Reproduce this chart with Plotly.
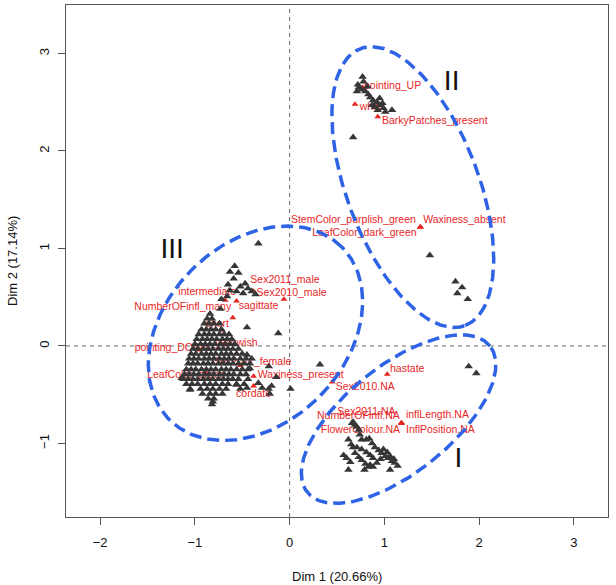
import numpy as np
import plotly.graph_objects as go

# ---------------- data ----------------
# individuals: group II (top)
ind2_x = [0.77, 0.72, 0.78, 0.82, 0.71, 0.76, 0.80, 0.85, 0.88, 0.92, 0.95, 0.98, 0.90, 0.93,
          0.99, 1.08, 0.95, 0.87, 0.67, 0.73, 0.83, 1.01]
ind2_y = [2.76, 2.68, 2.71, 2.66, 2.61, 2.63, 2.61, 2.55, 2.52, 2.50, 2.54, 2.49, 2.45, 2.42,
          2.44, 2.42, 2.47, 2.47, 2.14, 2.65, 2.58, 2.40]

# individuals: scattered on the right
indr_x = [1.48, 1.75, 1.82, 1.77, 1.88, 1.89, 1.97]
indr_y = [0.93, 0.66, 0.60, 0.54, 0.48, -0.21, -0.28]

# individuals: group I (bottom right)
ind1_x = [0.67, 0.69, 0.73, 0.74, 0.76, 0.81, 0.84, 0.87, 0.90, 0.94, 0.97, 1.01, 1.04, 1.08,
          1.11, 1.14, 0.62, 0.65, 0.67, 0.57, 0.60, 0.64, 0.62, 0.69, 0.73, 0.76, 0.80, 0.83,
          0.79, 0.88, 0.92, 0.96, 1.06, 0.76, 0.81, 0.71, 0.85, 0.88, 0.99, 1.03, 1.06, 1.10,
          0.66, 0.71, 0.85]
ind1_y = [-0.78, -0.81, -0.86, -0.91, -0.96, -0.96, -0.95, -1.00, -1.04, -1.07, -1.10, -1.13,
          -1.15, -1.18, -1.20, -1.23, -0.96, -1.01, -1.04, -1.12, -1.15, -1.19, -1.27, -1.10,
          -1.14, -1.17, -1.21, -1.24, -1.27, -1.24, -1.20, -1.16, -1.27, -1.06, -1.09, -1.04,
          -1.12, -1.15, -1.06, -1.09, -1.13, -1.16, -0.79, -0.83, -1.22]

# individuals: group III, sparse part
ind3_x = [-0.58, -0.63, -0.54, -0.59, -0.65, -0.52, -0.47, -0.44, -0.63, -0.56, -0.49, -0.72,
          -0.66, -0.40, -0.36, -0.73, -0.45, -0.42, -0.56, -0.45, -0.29, -0.21, -0.14, -0.22,
          -0.33, -0.19, -0.22, -0.33, -0.12, -0.45, 0.32, 0.01, -1.14, -1.05, -0.81]
ind3_y = [0.82, 0.76, 0.75, 0.69, 0.63, 0.61, 0.64, 0.59, 0.57, 0.56, 0.54, 0.48,
          0.51, 0.56, 0.53, 0.38, -0.09, -0.23, -0.40, -0.43, -0.43, -0.49, -0.32, -0.21,
          -0.38, -0.41, -0.44, 1.05, 0.13, 0.19, -0.19, -0.44, -0.33, -0.45, -0.57]

# individuals: group III, dense mass (one list of x per row)
mass_y = [0.33, 0.28, 0.23, 0.17, 0.12, 0.07, 0.02, -0.03, -0.08, -0.13, -0.18, -0.24,
          -0.29, -0.34, -0.39, -0.44, -0.49, -0.54, -0.60]
mass_x = [
    [-0.84],
    [-0.87, -0.82],
    [-0.90, -0.85, -0.80, -0.74],
    [-0.93, -0.88, -0.83, -0.78, -0.72],
    [-0.96, -0.90, -0.85, -0.80, -0.74, -0.69, -0.64],
    [-0.98, -0.92, -0.87, -0.82, -0.77, -0.71, -0.66, -0.61],
    [-1.00, -0.94, -0.89, -0.84, -0.79, -0.73, -0.68, -0.63, -0.58],
    [-1.02, -0.97, -0.91, -0.86, -0.81, -0.75, -0.70, -0.65, -0.60, -0.54],
    [-1.04, -0.99, -0.93, -0.88, -0.83, -0.78, -0.72, -0.67, -0.62, -0.56, -0.50],
    [-1.06, -1.01, -0.96, -0.90, -0.85, -0.80, -0.74, -0.69, -0.64, -0.59, -0.52, -0.46, -0.40],
    [-1.07, -1.02, -0.97, -0.91, -0.86, -0.81, -0.75, -0.70, -0.65, -0.60, -0.54, -0.48, -0.42],
    [-1.09, -1.04, -0.99, -0.93, -0.88, -0.83, -0.78, -0.72, -0.67, -0.62, -0.56, -0.50, -0.44],
    [-1.11, -1.06, -1.01, -0.96, -0.90, -0.85, -0.80, -0.74, -0.69, -0.64, -0.59, -0.52, -0.46],
    [-1.12, -1.07, -1.02, -0.97, -0.91, -0.86, -0.81, -0.75, -0.70, -0.65, -0.60, -0.54, -0.44],
    [-1.09, -1.03, -0.97, -0.90, -0.84, -0.78, -0.71, -0.65, -0.56, -0.48],
    [-1.05, -0.94, -0.87, -0.81, -0.74, -0.67, -0.52],
    [-0.92, -0.84, -0.78, -0.71],
    [-0.86, -0.80],
    [-0.82],
]

# categories (red)
cat_names = ["pointing_UP", "white", "BarkyPatches_present",
             "StemColor_purplish_green", "Waxiness_absent", "LeafColor_dark_green",
             "Sex2011_male", "Sex2010_male", "sagittate", "intermediate", "NumberOFinfl_many",
             "short", "pointing_DOWN", "yellowish", "Sex2011_female", "LeafColor_green",
             "Waxiness_present", "cordate", "hastate", "Sex2010.NA",
             "Sex2011.NA", "NumberOFinfl.NA", "inflLength.NA", "FlowerColour.NA",
             "InflPosition.NA"]
cat_x = [0.77, 0.69, 0.93, 1.38, 1.38, 1.38, -0.06, -0.38, -0.56, -0.68, -0.60,
         -0.71, -0.95, -0.68, -0.52, -0.89, -0.38, -0.38, 1.03, 0.45,
         1.18, 1.18, 1.18, 1.18, 1.18]
cat_y = [2.65, 2.48, 2.35, 1.22, 1.22, 1.22, 0.48, 0.56, 0.46, 0.47, 0.29,
         0.16, -0.04, 0.01, -0.20, -0.27, -0.31, -0.41, -0.29, -0.37,
         -0.79, -0.79, -0.79, -0.79, -0.79]

# label placement relative to the point (pixels, right / down)
lab_dx = [30, 17, 57, -67, 44, -56, 1, 38, 22, -18, -50, -5, -27, 11, 12, -19, 47, 0,
          20, 33, -35, -43, 36, -41, 39]
lab_dy = [-1, 3, 5, -7, -7, 6, -19, 2, 5, -8, -10, -6, -2, -2, -3, 3, -1, 8,
          -5, 5, -11, -7, -8, 7, 7]

# ellipses (centre in data units, semi-axes in pixels, angle in degrees)
ell_cx = [1.15, 1.30, -0.36]
ell_cy = [-0.75, 1.63, 0.13]
ell_a = [117, 148, 122]
ell_b = [53.5, 66, 90]
ell_ang = [38.7, -69.3, 45]

group_names = ["I", "II", "III"]
group_x = [1.78, 1.71, -1.24]
group_y = [-1.17, 2.70, 0.97]

# ---------------- layout constants ----------------
W, H = 616, 585
ML, MR, MT, MB = 66, 8, 5, 68
XR = [-2.36, 3.36]
YR = [-1.754, 3.497]
PX_X = (W - ML - MR) / (XR[1] - XR[0])
PX_Y = (H - MT - MB) / (YR[1] - YR[0])

FONT = "Liberation Sans, Arial, Helvetica, sans-serif"
RED = "#E8261F"
BLACK = "#363636"
BLUE = "#2F63E6"

fig = go.Figure()

# categories (drawn first, so individuals cover them)
fig.add_trace(go.Scatter(x=cat_x, y=cat_y, mode="markers",
                         marker=dict(symbol="triangle-up", size=6, color=RED),
                         hoverinfo="skip", showlegend=False))
lx = [x + dx / PX_X for x, dx in zip(cat_x, lab_dx)]
ly = [y - dy / PX_Y for y, dy in zip(cat_y, lab_dy)]
fig.add_trace(go.Scatter(x=lx, y=ly, mode="text", text=cat_names,
                         textposition="middle center",
                         textfont=dict(family=FONT, size=10.5, color=RED),
                         hoverinfo="skip", showlegend=False))

# individuals
all_x = ind2_x + indr_x + ind1_x + ind3_x
all_y = ind2_y + indr_y + ind1_y + ind3_y
for yv, row in zip(mass_y, mass_x):
    all_x += row
    all_y += [yv] * len(row)
fig.add_trace(go.Scatter(x=all_x, y=all_y, mode="markers",
                         marker=dict(symbol="triangle-up", size=7.5, color=BLACK),
                         hoverinfo="skip", showlegend=False))

# ellipses
t = np.linspace(0, 2 * np.pi, 241)
for cx, cy, a, b, ang in zip(ell_cx, ell_cy, ell_a, ell_b, ell_ang):
    th = np.deg2rad(ang)
    dx = a * np.cos(t) * np.cos(th) - b * np.sin(t) * np.sin(th)
    dy = a * np.cos(t) * np.sin(th) + b * np.sin(t) * np.cos(th)
    fig.add_trace(go.Scatter(x=cx + dx / PX_X, y=cy + dy / PX_Y, mode="lines",
                             line=dict(color=BLUE, width=3.5, dash="12px,6px"),
                             hoverinfo="skip", showlegend=False))

# group labels
fig.add_trace(go.Scatter(x=group_x, y=group_y, mode="text", text=group_names,
                         textposition="middle center",
                         textfont=dict(family=FONT, size=28, color="#111111"),
                         hoverinfo="skip", showlegend=False))

# dashed axes through the origin
fig.add_shape(type="line", x0=0, x1=0, y0=YR[0], y1=YR[1], xref="x", yref="y",
              line=dict(color="#666666", width=1, dash="4px,4px"), layer="below")
fig.add_shape(type="line", x0=XR[0], x1=XR[1], y0=0, y1=0, xref="x", yref="y",
              line=dict(color="#666666", width=1, dash="4px,4px"), layer="below")

axis_common = dict(showgrid=False, zeroline=False, showline=True, mirror=True,
                   linecolor="#555555", linewidth=1, ticks="outside", ticklen=7,
                   tickcolor="#555555", automargin=False,
                   tickfont=dict(family=FONT, size=13, color="#111111"))
fig.update_xaxes(range=XR, tickvals=[-2, -1, 0, 1, 2, 3], ticklabelstandoff=6, **axis_common)
fig.update_yaxes(range=YR, tickvals=[-1, 0, 1, 2, 3], tickangle=-90, ticklabelstandoff=4,
                 **axis_common)

fig.add_annotation(text="Dim 1 (20.66%)", x=0.5, y=0, xref="paper", yref="paper",
                   yanchor="middle", yshift=-59, showarrow=False,
                   font=dict(family=FONT, size=13, color="#111111"))
fig.add_annotation(text="Dim 2 (17.14%)", x=0, y=0.5, xref="paper", yref="paper",
                   xanchor="center", xshift=-54, textangle=-90, showarrow=False,
                   font=dict(family=FONT, size=13, color="#111111"))

fig.update_layout(width=W, height=H, margin=dict(l=ML, r=MR, t=MT, b=MB, autoexpand=False),
                  template="none", plot_bgcolor="white", paper_bgcolor="white")

fig.write_html("out.html", config={"displayModeBar": False},
               post_script="document.body.style.margin='0';document.body.style.overflow='hidden';")
